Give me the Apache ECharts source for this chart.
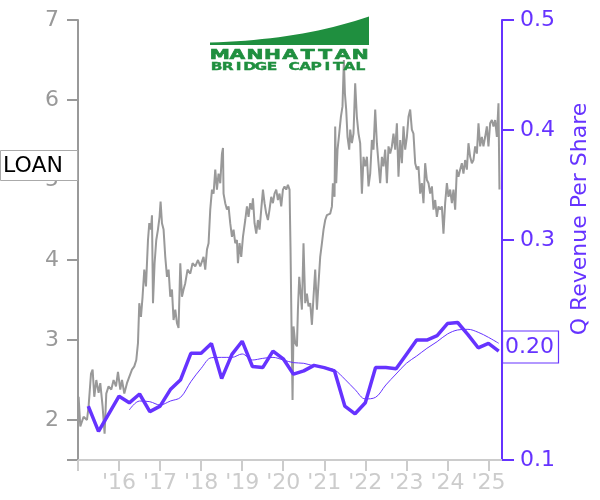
<!DOCTYPE html>
<html>
<head>
<meta charset="utf-8">
<script src="https://cdn.jsdelivr.net/npm/echarts@6/dist/echarts.min.js"></script>
<style>html,body{margin:0;padding:0;background:#fff;}#c{width:600px;height:500px;}</style>
</head>
<body>
<div id="c"></div>
<script>
// ---- data ----
const stockYears = [
2015.015,2015.056,2015.136,2015.219,2015.258,2015.317,2015.356,2015.397,2015.446,2015.502,
2015.543,2015.599,2015.648,2015.689,2015.745,2015.811,2015.867,2015.925,2015.974,2016.030,
2016.072,2016.128,2016.193,2016.249,2016.315,2016.371,2016.420,2016.461,2016.493,2016.534,
2016.573,2016.615,2016.656,2016.705,2016.737,2016.778,2016.802,2016.827,2016.866,2016.907,
2016.948,2016.987,2017.012,2017.046,2017.085,2017.126,2017.168,2017.207,2017.248,2017.289,
2017.328,2017.370,2017.411,2017.450,2017.492,2017.533,2017.572,2017.613,2017.669,2017.735,
2017.791,2017.857,2017.923,2017.979,2018.059,2018.100,2018.142,2018.181,2018.222,2018.264,
2018.303,2018.344,2018.385,2018.424,2018.466,2018.507,2018.532,2018.546,2018.587,2018.629,
2018.668,2018.709,2018.751,2018.790,2018.831,2018.872,2018.897,2018.936,2018.977,2019.019,
2019.075,2019.116,2019.155,2019.196,2019.238,2019.262,2019.301,2019.343,2019.384,2019.423,
2019.464,2019.506,2019.545,2019.586,2019.627,2019.666,2019.708,2019.749,2019.788,2019.830,
2019.871,2019.910,2019.951,2019.993,2020.032,2020.073,2020.114,2020.154,2020.178,2020.202,
2020.227,2020.251,2020.292,2020.334,2020.358,2020.390,2020.431,2020.455,2020.494,2020.536,
2020.577,2020.616,2020.658,2020.699,2020.738,2020.779,2020.821,2020.860,2020.901,2020.943,
2020.982,2021.023,2021.064,2021.103,2021.145,2021.186,2021.210,2021.250,2021.266,2021.291,
2021.323,2021.364,2021.405,2021.444,2021.478,2021.503,2021.534,2021.566,2021.608,2021.632,
2021.673,2021.712,2021.753,2021.794,2021.834,2021.875,2021.917,2021.956,2021.997,2022.039,
2022.078,2022.119,2022.160,2022.199,2022.241,2022.282,2022.321,2022.362,2022.404,2022.443,
2022.484,2022.526,2022.565,2022.606,2022.647,2022.686,2022.728,2022.769,2022.808,2022.850,
2022.891,2022.930,2022.971,2023.013,2023.052,2023.093,2023.134,2023.173,2023.215,2023.256,
2023.295,2023.337,2023.378,2023.417,2023.458,2023.500,2023.539,2023.580,2023.622,2023.661,
2023.702,2023.743,2023.782,2023.824,2023.865,2023.904,2023.945,2023.987,2024.026,2024.067,
2024.109,2024.148,2024.189,2024.230,2024.269,2024.311,2024.352,2024.391,2024.432,2024.474,
2024.513,2024.554,2024.596,2024.635,2024.676,2024.718,2024.757,2024.798,2024.839,2024.878,
2024.920,2024.961,2025.000,2025.041,2025.083,2025.122,2025.163,2025.205,2025.244,2025.268
];
const stockPrice = [
2.29,1.92,2.04,2.00,2.17,2.58,2.63,2.29,2.50,2.34,
2.46,2.17,1.83,2.33,2.42,2.38,2.50,2.42,2.60,2.38,
2.50,2.33,2.46,2.54,2.63,2.67,2.75,2.96,3.46,3.29,
3.54,3.88,3.67,4.25,4.46,4.38,4.56,3.46,3.96,4.25,
4.38,4.54,4.73,4.46,4.38,4.04,3.79,3.88,3.54,3.63,
3.25,3.38,3.21,3.15,3.96,3.54,3.63,3.71,3.88,3.83,
3.96,3.92,4.00,3.92,4.04,3.88,4.13,4.21,4.63,4.88,
4.83,5.13,4.88,5.08,4.96,5.33,5.40,4.83,4.71,4.63,
4.67,4.46,4.29,4.38,4.21,4.25,3.96,4.21,4.04,4.29,
4.50,4.67,4.54,4.71,4.63,4.77,4.46,4.33,4.50,4.38,
4.63,4.88,4.71,4.58,4.50,4.63,4.79,4.71,4.83,4.88,
4.75,4.83,4.67,4.88,4.92,4.88,4.94,4.88,4.13,3.17,
2.25,3.17,2.96,2.92,3.38,3.79,3.54,3.38,4.21,3.46,
3.58,3.42,3.46,3.19,3.54,3.88,3.38,3.71,4.04,4.21,
4.38,4.50,4.56,4.54,4.58,4.67,4.96,4.79,5.67,4.96,
5.38,5.58,5.79,5.92,6.50,6.08,5.88,5.54,5.38,5.63,
5.46,5.58,6.21,5.79,5.58,5.46,4.83,5.29,5.17,5.29,
4.92,5.08,5.50,5.38,5.88,5.46,5.21,4.96,5.29,5.17,
5.38,4.96,5.42,5.33,5.42,5.58,5.38,5.71,5.04,5.50,
5.21,5.67,5.38,5.54,5.79,5.88,5.63,5.58,5.21,5.13,
5.17,4.83,4.96,4.71,5.21,5.00,4.96,4.83,4.92,4.63,
4.75,4.54,4.67,4.63,4.67,4.33,4.71,4.96,4.79,4.88,
4.71,4.88,4.63,5.13,5.04,5.13,5.21,5.08,5.25,5.13,
5.46,5.29,5.21,5.25,5.42,5.33,5.71,5.42,5.54,5.42,
5.54,5.67,5.42,5.71,5.75,5.67,5.75,5.54,5.96,4.88
];
const quarterYears = [
2015.25,2015.5,2015.75,2016.0,2016.25,2016.5,2016.75,2017.0,2017.25,2017.5,
2017.75,2018.0,2018.25,2018.5,2018.75,2019.0,2019.25,2019.5,2019.75,2020.0,
2020.25,2020.5,2020.75,2021.0,2021.25,2021.5,2021.75,2022.0,2022.25,2022.5,
2022.75,2023.0,2023.25,2023.5,2023.75,2024.0,2024.25,2024.5,2024.75,2025.0,2025.25
];
const revPerShare = [
0.149,0.126,0.142,0.158,0.152,0.160,0.144,0.149,0.164,0.173,
0.197,0.197,0.206,0.174,0.196,0.208,0.185,0.184,0.199,0.192,
0.178,0.181,0.186,0.184,0.181,0.149,0.142,0.152,0.184,0.184,
0.183,0.196,0.209,0.209,0.213,0.224,0.225,0.214,0.202,0.206,0.199
];
const maYears = [
2016.25,2016.5,2016.75,2017.0,2017.25,2017.5,2017.75,2018.0,2018.25,2018.5,
2018.75,2019.0,2019.25,2019.5,2019.75,2020.0,2020.25,2020.5,2020.75,2021.0,
2021.25,2021.5,2021.75,2022.0,2022.25,2022.5,2022.75,2023.0,2023.25,2023.5,
2023.75,2024.0,2024.25,2024.5,2024.75,2025.0,2025.25
];
const revMA = [
0.1455,0.1536,0.1530,0.1500,0.1536,0.1570,0.1712,0.1833,0.1930,0.1933,
0.1933,0.1964,0.1909,0.1924,0.1933,0.1909,0.1885,0.1879,0.1855,0.1839,
0.1818,0.1735,0.1640,0.1555,0.1570,0.1682,0.1782,0.1879,0.1945,0.2015,
0.2076,0.2145,0.2182,0.2188,0.2161,0.2115,0.2061
];
const leftTicks = [1.5,2,3,4,5,6,7];
const leftLabels = [2,3,4,5,6,7];
const ticker = 'LOAN';
const lastLabel = '0.20';
const lastLabelValue = 0.20;
const rightAxisName = 'Q Revenue Per Share';

// ---- chart ----
const PURPLE = '#6633ff';
const GRAY = '#999999';
const LIGHT = '#cccccc';
const FONT = 'DejaVu Sans';
const zip = (a, b) => a.map((v, i) => [v, b[i]]);

const chart = echarts.init(document.getElementById('c'), null, {renderer: 'canvas'});
chart.setOption({
  animation: false,
  grid: {left: 78, right: 98, top: 20, bottom: 40},
  xAxis: {
    type: 'value', min: 2015, max: 2025.33, interval: 1,
    axisLine: {lineStyle: {color: LIGHT, width: 2}},
    axisTick: {length: 11, lineStyle: {color: LIGHT, width: 2}},
    splitLine: {show: false},
    axisLabel: {
      color: LIGHT, fontSize: 22, fontFamily: FONT, margin: 12,
      showMaxLabel: false,
      formatter: v => (Math.abs(v - Math.round(v)) < 1e-6 && v >= 2016) ? "'" + String(Math.round(v)).slice(2) : ''
    }
  },
  yAxis: [
    {
      type: 'value', min: 1.5, max: 7, position: 'left',
      axisLine: {show: true, lineStyle: {color: GRAY, width: 2}},
      axisTick: {show: true, length: 11, customValues: leftTicks, lineStyle: {color: GRAY, width: 2}},
      axisLabel: {color: GRAY, fontSize: 22, fontFamily: FONT, margin: 19, customValues: leftLabels},
      splitLine: {show: false}
    },
    {
      type: 'value', min: 0.1, max: 0.5, interval: 0.1, position: 'right',
      axisLine: {show: true, lineStyle: {color: PURPLE, width: 2}},
      axisTick: {show: true, length: 12, lineStyle: {color: PURPLE, width: 2}},
      axisLabel: {color: PURPLE, fontSize: 22, fontFamily: FONT, margin: 18,
        formatter: v => v.toFixed(1)},
      splitLine: {show: false}
    }
  ],
  series: [
    {
      type: 'line', yAxisIndex: 0, data: zip(stockYears, stockPrice),
      showSymbol: false, symbol: 'none',
      lineStyle: {color: GRAY, width: 2}, z: 2
    },
    {
      type: 'line', yAxisIndex: 1, data: zip(maYears, revMA),
      showSymbol: false, symbol: 'none', smooth: 0.35,
      lineStyle: {color: PURPLE, width: 1}, z: 3
    },
    {
      type: 'line', yAxisIndex: 1, data: zip(quarterYears, revPerShare),
      showSymbol: false, symbol: 'none',
      lineStyle: {color: PURPLE, width: 3.5}, z: 4
    }
  ]
});

// overlay elements: logo, ticker box, right axis name, last value box
const yBox = chart.convertToPixel({yAxisIndex: 1}, lastLabelValue);
const GREEN = '#1f8f3f';
const elements = [];
// logo swoosh (quadratic curve sampled into a polygon)
const swoosh = [[210, 45]];
for (let k = 0; k <= 20; k++) {
  const t = k / 20;
  const x = (1 - t) * (1 - t) * 210 + 2 * (1 - t) * t * 300 + t * t * 369;
  const y = (1 - t) * (1 - t) * 42.5 + 2 * (1 - t) * t * 40 + t * t * 16.5;
  swoosh.push([x, y]);
}
swoosh.push([369, 45]);
elements.push({type: 'polygon', z: 50, shape: {points: swoosh}, style: {fill: GREEN}});
const w1 = 'MANHATTAN';
const p1 = 158 / w1.length;
for (let i = 0; i < w1.length; i++) {
  elements.push({type: 'text', z: 50, x: 211 + p1 * (i + 0.5), y: 55.5, scaleX: 1.5,
    style: {text: w1[i], fill: GREEN, font: '900 13.5px "DejaVu Sans"', align: 'center', verticalAlign: 'middle',
      stroke: GREEN, lineWidth: 0.6}});
}
const w2 = 'BRIDGE CAPITAL';
const p2 = 155 / w2.length;
for (let i = 0; i < w2.length; i++) {
  elements.push({type: 'text', z: 50, x: 211 + p2 * (i + 0.5), y: 67.3, scaleX: 1.4,
    style: {text: w2[i], fill: GREEN, font: '900 11px "DejaVu Sans"', align: 'center', verticalAlign: 'middle',
      stroke: GREEN, lineWidth: 0.4}});
}
elements.push({type: 'rect', z: 60, shape: {x: 0.5, y: 150.5, width: 77, height: 30},
  style: {fill: '#fff', stroke: '#aaaaaa', lineWidth: 1}});
elements.push({type: 'text', z: 61, x: 3, y: 166,
  style: {text: ticker, fill: '#000', font: '22px "DejaVu Sans"', verticalAlign: 'middle'}});
elements.push({type: 'text', z: 60, x: 580, y: 219, rotation: Math.PI / 2,
  style: {text: rightAxisName, fill: PURPLE, font: '22px "DejaVu Sans"', align: 'center', verticalAlign: 'middle'}});
elements.push({type: 'rect', z: 60, shape: {x: 502.5, y: yBox - 19, width: 56, height: 32},
  style: {fill: '#fff', stroke: PURPLE, lineWidth: 1.2}});
elements.push({type: 'text', z: 61, x: 505, y: yBox - 3,
  style: {text: lastLabel, fill: PURPLE, font: '22px "DejaVu Sans"', verticalAlign: 'middle'}});
chart.setOption({graphic: {elements: elements}});
</script>
</body>
</html>
